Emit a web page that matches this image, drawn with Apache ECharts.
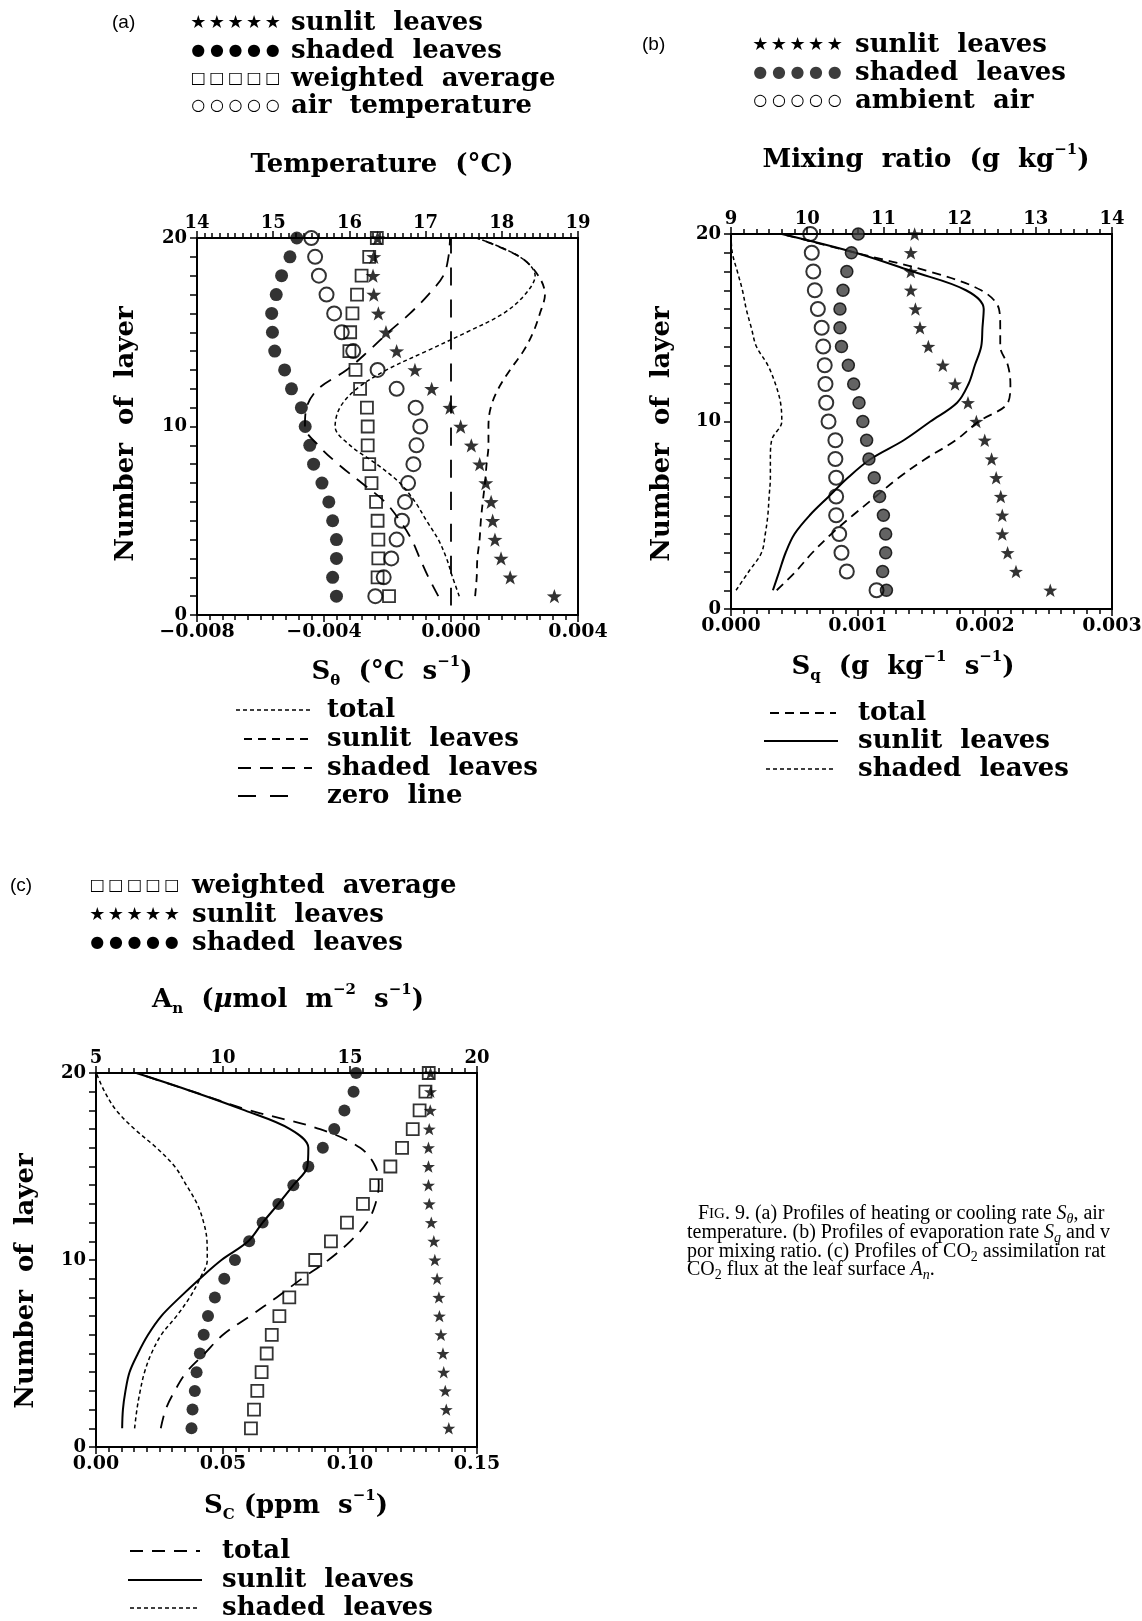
<!DOCTYPE html>
<html>
<head>
<meta charset="utf-8">
<script src="https://cdn.jsdelivr.net/npm/echarts@6/dist/echarts.min.js"></script>
<style>
  html, body { margin: 0; padding: 0; background: #fff; }
  #main { width: 1142px; height: 1621px; }
</style>
</head>
<body>
<div id="main"></div>
<script>
// layer number (y axis of every panel)
var layers = [1, 2, 3, 4, 5, 6, 7, 8, 9, 10, 11, 12, 13, 14, 15, 16, 17, 18, 19, 20];

// (a) temperature, deg C (top axis)
var aSunlitTemp   = [18.69, 18.11, 17.99, 17.91, 17.88, 17.86, 17.79, 17.71, 17.60, 17.46, 17.32, 17.08, 16.86, 16.62, 16.48, 16.38, 16.32, 16.31, 16.32, 16.37];
var aShadedTemp   = [15.83, 15.78, 15.83, 15.83, 15.78, 15.73, 15.64, 15.53, 15.48, 15.42, 15.37, 15.24, 15.15, 15.02, 14.99, 14.98, 15.04, 15.11, 15.22, 15.31];
var aWeightedTemp = [16.52, 16.37, 16.38, 16.38, 16.37, 16.35, 16.29, 16.26, 16.24, 16.24, 16.23, 16.14, 16.08, 16.00, 16.01, 16.04, 16.10, 16.16, 16.26, 16.36];
var aAirTemp      = [16.34, 16.45, 16.55, 16.62, 16.69, 16.73, 16.77, 16.84, 16.88, 16.93, 16.87, 16.62, 16.37, 16.05, 15.90, 15.80, 15.70, 15.60, 15.55, 15.50];
// (a) heating rate S_theta, deg C/s (bottom axis)
var aTotalRate  = [0.00026, 0.00005, -0.00014, -0.0004, -0.00077, -0.00113, -0.00161, -0.00234, -0.00318, -0.00365, -0.0035, -0.00297, -0.00203, -0.00077, 0.00049, 0.00165, 0.00233, 0.00265, 0.00217, 0.00081];
var aSunlitRate = [0.00076, 0.00081, 0.00083, 0.0009, 0.00094, 0.001, 0.00107, 0.00112, 0.00118, 0.00118, 0.00125, 0.00149, 0.00186, 0.00228, 0.00259, 0.0028, 0.00296, 0.00275, 0.00217, 0.00081];
var aShadedRate = [-0.0004, -0.00071, -0.00098, -0.00124, -0.00161, -0.00208, -0.00281, -0.00355, -0.00418, -0.0046, -0.00455, -0.00418, -0.00329, -0.0026, -0.00197, -0.00129, -0.00071, -0.00024, -0.00008, -0.00003];
var aZeroLayers = [0.5, 20];
var aZeroRate   = [0, 0];
var aTempRange = [14, 19];
var aRateRange = [-0.008, 0.004];

// (b) mixing ratio, g/kg (top axis)
var bSunlitMix = [13.19, 12.74, 12.63, 12.56, 12.56, 12.54, 12.48, 12.42, 12.33, 12.22, 12.11, 11.94, 11.78, 11.59, 11.48, 11.42, 11.36, 11.36, 11.36, 11.41];
var bShadedMix = [11.04, 10.99, 11.03, 11.03, 11.00, 10.95, 10.88, 10.81, 10.78, 10.73, 10.68, 10.61, 10.54, 10.45, 10.43, 10.43, 10.47, 10.52, 10.58, 10.67];
var bAirMix    = [10.91, 10.52, 10.45, 10.42, 10.38, 10.38, 10.38, 10.37, 10.37, 10.28, 10.25, 10.24, 10.23, 10.21, 10.19, 10.14, 10.10, 10.08, 10.06, 10.04];
// (b) evaporation rate S_q, g/kg/s (bottom axis)
var bTotalRate  = [0.00036, 0.00051, 0.00064, 0.00079, 0.00096, 0.00114, 0.00132, 0.00153, 0.00177, 0.00195, 0.00218, 0.0022, 0.00218, 0.00212, 0.00212, 0.00211, 0.00197, 0.00156, 0.00098, 0.0004];
var bSunlitRate = [0.00033, 0.00038, 0.00043, 0.0005, 0.00062, 0.00077, 0.00092, 0.0011, 0.00136, 0.00157, 0.00178, 0.00187, 0.00192, 0.00197, 0.00198, 0.00199, 0.00185, 0.00143, 0.00098, 0.0004];
var bShadedRate = [0.00004, 0.00014, 0.00024, 0.00027, 0.00029, 0.0003, 0.00031, 0.00031, 0.00032, 0.0004, 0.00039, 0.00035, 0.00029, 0.0002, 0.00016, 0.00012, 0.00009, 0.00005, 0.00001, 0];
var bMixRange = [9, 14];
var bRateRange = [0, 0.003];

// (c) CO2 assimilation A_n, umol/m2/s (top axis)
var cWeightedAn = [11.10, 11.22, 11.35, 11.52, 11.72, 11.92, 12.22, 12.61, 13.10, 13.63, 14.25, 14.88, 15.51, 16.03, 16.59, 17.05, 17.47, 17.74, 17.97, 18.10];
var cSunlitAn   = [18.89, 18.79, 18.75, 18.69, 18.66, 18.58, 18.52, 18.50, 18.43, 18.34, 18.30, 18.20, 18.12, 18.09, 18.09, 18.09, 18.12, 18.16, 18.17, 18.17];
var cShadedAn   = [8.76, 8.80, 8.89, 8.96, 9.09, 9.24, 9.41, 9.68, 10.05, 10.47, 11.03, 11.56, 12.18, 12.77, 13.36, 13.93, 14.38, 14.78, 15.14, 15.24];
// (c) CO2 uptake rate S_c, ppm/s (bottom axis)
var cTotalRate  = [0.0255, 0.0274, 0.031, 0.0356, 0.0428, 0.05, 0.0606, 0.0711, 0.081, 0.0915, 0.1001, 0.1067, 0.11, 0.1113, 0.11, 0.104, 0.0882, 0.0606, 0.0382, 0.0159];
var cSunlitRate = [0.0103, 0.0106, 0.0116, 0.0132, 0.0165, 0.0205, 0.0257, 0.033, 0.0409, 0.0494, 0.0599, 0.0656, 0.0718, 0.0777, 0.0832, 0.0836, 0.0764, 0.0586, 0.0382, 0.0159];
var cShadedRate = [0.0152, 0.0161, 0.0174, 0.0191, 0.0218, 0.0257, 0.0317, 0.0369, 0.0409, 0.0438, 0.0437, 0.0424, 0.0398, 0.0356, 0.031, 0.0238, 0.0152, 0.008, 0.0034, 0.0001];
var cAnRange = [5, 20];
var cRateRange = [0, 0.15];

var layerRange = [0, 20];

var chart = echarts.init(document.getElementById('main'));

var SERIF = '"DejaVu Serif"';
var STAR = 'path://M0,-10L2.35,-3.24L9.51,-3.09L3.8,1.24L5.88,8.09L0,4L-5.88,8.09L-3.8,1.24L-9.51,-3.09L-2.35,-3.24Z';

function pairs(xs, ys) {
    ys = ys || layers;
    return xs.map(function (v, i) { return [v, ys[i]]; });
}

function minus(s) { return s.replace('-', '\u2212'); }

// box axes, ticks pointing out
function xAxisOf(grid, pos, range, interval, split, size, digits) {
    return {
        type: 'value', gridIndex: grid, position: pos,
        min: range[0], max: range[1], interval: interval,
        axisLine: { show: true, onZero: false, lineStyle: { color: '#000', width: 2 } },
        axisTick: { show: true, inside: false, length: 7, lineStyle: { color: '#000', width: 1.5 } },
        minorTick: { show: true, splitNumber: split, length: 5, lineStyle: { color: '#000', width: 1.5 } },
        splitLine: { show: false }, minorSplitLine: { show: false },
        axisLabel: {
            margin: pos === 'top' ? 6 : 8, color: '#000', fontFamily: SERIF, fontWeight: 'bold', fontSize: size,
            formatter: function (v) { return digits == null ? String(v) : minus(v.toFixed(digits)); }
        }
    };
}

function yAxisOf(grid) {
    return {
        type: 'value', gridIndex: grid, min: layerRange[0], max: layerRange[1], interval: 10,
        axisLine: { show: true, onZero: false, lineStyle: { color: '#000', width: 2 } },
        axisTick: { show: true, length: 7, lineStyle: { color: '#000', width: 1.5 } },
        minorTick: { show: true, splitNumber: 10, length: 7, lineStyle: { color: '#000', width: 1.5 } },
        splitLine: { show: false }, minorSplitLine: { show: false },
        axisLabel: { margin: 10, color: '#000', fontFamily: SERIF, fontWeight: 'bold', fontSize: 18 }
    };
}

function markers(xi, yi, xs, symbol, size, style) {
    return {
        type: 'scatter', xAxisIndex: xi, yAxisIndex: yi, data: pairs(xs),
        symbol: symbol, symbolSize: size, symbolKeepAspect: true,
        itemStyle: style, clip: false, silent: true, z: 4
    };
}

function curve(xi, yi, xs, dash, width, ys) {
    return {
        type: 'line', xAxisIndex: xi, yAxisIndex: yi, data: pairs(xs, ys),
        showSymbol: false, symbol: 'none', smooth: 0.35, clip: false, silent: true, z: 3,
        lineStyle: { color: '#000', width: width, type: dash }
    };
}

var filled = { color: '#000' };
var hollowSq = { color: 'rgba(0,0,0,0)', borderColor: '#000', borderWidth: 1.8 };
var hollowCi = { color: 'rgba(0,0,0,0)', borderColor: '#000', borderWidth: 2 };
var hatched = { color: '#3c3c3c', borderColor: '#000', borderWidth: 1.5 };

// text helpers
var big = 'bold 26px ' + SERIF;
var small = 'bold 15px ' + SERIF;
var richBase = {
    m: { font: big, lineHeight: 34 },
    sub: { font: small, verticalAlign: 'bottom', lineHeight: 18 },
    sup: { font: small, verticalAlign: 'top', lineHeight: 18 },
    mu: { font: 'italic bold 26px ' + SERIF, lineHeight: 34 }
};

function label(x, y, txt, opts) {
    opts = opts || {};
    return {
        type: 'text', x: x, y: y, rotation: opts.rotation || 0, silent: true,
        style: {
            text: txt, font: opts.font || big, fill: '#000',
            align: opts.align || 'left', verticalAlign: 'middle', rich: opts.rich
        }
    };
}

function symRow(x, y, ch, font, color) {
    var t = '';
    for (var i = 0; i < 5; i++) t += '{s|' + ch + '}';
    return label(x, y, t, { rich: { s: { font: font, width: 18.6, align: 'center', fill: color || '#000' } } });
}

function dashSample(x1, x2, y, dash, width) {
    return {
        type: 'line', silent: true,
        shape: { x1: x1, y1: y, x2: x2, y2: y },
        style: { stroke: '#000', lineWidth: width, lineDash: dash }
    };
}

var starFont = '18px "DejaVu Sans"';
var dotFont = '16px "DejaVu Sans"';
var boxFont = '16px "DejaVu Sans"';
var capFont = '20px "Liberation Serif"';
var capRich = {
    sc: { font: '20px "Liberation Serif"' },
    sc2: { font: '15px "Liberation Serif"' },
    i: { font: 'italic 20px "Liberation Serif"' },
    isub: { font: 'italic 14px "Liberation Serif"', verticalAlign: 'bottom', lineHeight: 24 },
    sub: { font: '14px "Liberation Serif"', verticalAlign: 'bottom', lineHeight: 24 }
};

var graphics = [
    // panel letters
    label(112, 23, '(a)', { font: '19px "Liberation Sans"' }),
    label(642, 45, '(b)', { font: '19px "Liberation Sans"' }),
    label(10, 886, '(c)', { font: '19px "Liberation Sans"' }),

    // (a) marker legend
    symRow(189, 23, '\u2605', starFont),
    symRow(189, 51, '\u25CF', dotFont),
    symRow(189, 79, '\u25A1', boxFont),
    symRow(189, 106, '\u25CB', dotFont),
    label(291, 23, 'sunlit  leaves'),
    label(291, 51, 'shaded  leaves'),
    label(291, 79, 'weighted  average'),
    label(291, 106, 'air  temperature'),
    label(382, 165, 'Temperature  (\u00B0C)', { align: 'center' }),
    label(126, 434, 'Number  of  layer', { align: 'center', rotation: Math.PI / 2 }),
    label(392, 672, '{m|S}{sub|\u03B8}{m|  (\u00B0C  s}{sup|\u22121}{m|)}', { align: 'center', rich: richBase }),
    dashSample(236, 310, 710, [4, 3], 1.5),
    dashSample(244, 312, 739, [8, 6], 1.8),
    dashSample(238, 312, 768, [13, 9], 1.8),
    dashSample(238, 300, 796, [18, 14], 1.8),
    label(327, 710, 'total'),
    label(327, 739, 'sunlit  leaves'),
    label(327, 768, 'shaded  leaves'),
    label(327, 796, 'zero  line'),

    // (b) marker legend
    symRow(751, 45, '\u2605', starFont),
    symRow(751, 73, '\u25CF', dotFont, '#3c3c3c'),
    symRow(751, 101, '\u25CB', dotFont),
    label(855, 45, 'sunlit  leaves'),
    label(855, 73, 'shaded  leaves'),
    label(855, 101, 'ambient  air'),
    label(926, 160, '{m|Mixing  ratio  (g  kg}{sup|\u22121}{m|)}', { align: 'center', rich: richBase }),
    label(662, 434, 'Number  of  layer', { align: 'center', rotation: Math.PI / 2 }),
    label(903, 667, '{m|S}{sub|q}{m|  (g  kg}{sup|\u22121}{m|  s}{sup|\u22121}{m|)}', { align: 'center', rich: richBase }),
    dashSample(770, 836, 713, [9, 6], 1.8),
    dashSample(764, 838, 741, null, 2),
    dashSample(766, 836, 769, [4, 3], 1.5),
    label(858, 713, 'total'),
    label(858, 741, 'sunlit  leaves'),
    label(858, 769, 'shaded  leaves'),

    // (c) marker legend
    symRow(88, 886, '\u25A1', boxFont),
    symRow(88, 915, '\u2605', starFont),
    symRow(88, 943, '\u25CF', dotFont),
    label(192, 886, 'weighted  average'),
    label(192, 915, 'sunlit  leaves'),
    label(192, 943, 'shaded  leaves'),
    label(288, 1000, '{m|A}{sub|n}{m|  (}{mu|\u03BC}{m|mol  m}{sup|\u22122}{m|  s}{sup|\u22121}{m|)}', { align: 'center', rich: richBase }),
    label(26, 1281, 'Number  of  layer', { align: 'center', rotation: Math.PI / 2 }),
    label(296, 1506, '{m|S}{sub|C}{m| (ppm  s}{sup|\u22121}{m|)}', { align: 'center', rich: richBase }),
    dashSample(130, 200, 1551, [13, 9], 1.8),
    dashSample(128, 202, 1580, null, 2),
    dashSample(130, 200, 1608, [4, 3], 1.5),
    label(222, 1551, 'total'),
    label(222, 1580, 'sunlit  leaves'),
    label(222, 1608, 'shaded  leaves'),

    // caption
    label(698, 1214, '{sc|F}{sc2|IG}. 9. (a) Profiles of heating or cooling rate {i|S}{isub|\u03B8}, air', { font: capFont, rich: capRich }),
    label(687, 1233, 'temperature. (b) Profiles of evaporation rate {i|S}{isub|q} and v', { font: capFont, rich: capRich }),
    label(687, 1252, 'por mixing ratio. (c) Profiles of CO{sub|2} assimilation rat', { font: capFont, rich: capRich }),
    label(687, 1270, 'CO{sub|2} flux at the leaf surface {i|A}{isub|n}.', { font: capFont, rich: capRich })
];

var gridBox = { show: true, borderColor: '#000', borderWidth: 2, backgroundColor: 'transparent', containLabel: false, outerBoundsMode: 'none' };

var option = {
    animation: false,
    backgroundColor: '#fff',
    grid: [
        Object.assign({ left: 197, top: 238, width: 381, height: 377 }, gridBox),
        Object.assign({ left: 731, top: 234, width: 381, height: 375 }, gridBox),
        Object.assign({ left: 96, top: 1073, width: 381, height: 374 }, gridBox)
    ],
    xAxis: [
        xAxisOf(0, 'bottom', aRateRange, 0.004, 10, 19, 3),
        xAxisOf(0, 'top', aTempRange, 1, 10, 18, null),
        xAxisOf(1, 'bottom', bRateRange, 0.001, 10, 19, 3),
        xAxisOf(1, 'top', bMixRange, 1, 6, 18, null),
        xAxisOf(2, 'bottom', cRateRange, 0.05, 10, 19, 2),
        xAxisOf(2, 'top', cAnRange, 5, 10, 18, null)
    ],
    yAxis: [yAxisOf(0), yAxisOf(1), yAxisOf(2)],
    series: [
        // (a)
        curve(0, 0, aTotalRate, [4, 3], 1.5),
        curve(0, 0, aSunlitRate, [8, 6], 1.8),
        curve(0, 0, aShadedRate, [13, 9], 1.8),
        curve(0, 0, aZeroRate, [18, 14], 1.8, aZeroLayers),
        markers(1, 0, aSunlitTemp, STAR, 15, filled),
        markers(1, 0, aShadedTemp, 'circle', 13, filled),
        markers(1, 0, aWeightedTemp, 'rect', 12, hollowSq),
        markers(1, 0, aAirTemp, 'circle', 14, hollowCi),
        // (b)
        curve(2, 1, bTotalRate, [9, 6], 1.8),
        curve(2, 1, bSunlitRate, 'solid', 2),
        curve(2, 1, bShadedRate, [4, 3], 1.5),
        markers(3, 1, bSunlitMix, STAR, 14, filled),
        markers(3, 1, bShadedMix, 'circle', 12, hatched),
        markers(3, 1, bAirMix, 'circle', 14, hollowCi),
        // (c)
        curve(4, 2, cTotalRate, [13, 9], 1.8),
        curve(4, 2, cSunlitRate, 'solid', 2),
        curve(4, 2, cShadedRate, [4, 3], 1.5),
        markers(5, 2, cWeightedAn, 'rect', 12, hollowSq),
        markers(5, 2, cSunlitAn, STAR, 13, filled),
        markers(5, 2, cShadedAn, 'circle', 12, filled)
    ],
    graphic: graphics
};

chart.setOption(option);
</script>
</body>
</html>
